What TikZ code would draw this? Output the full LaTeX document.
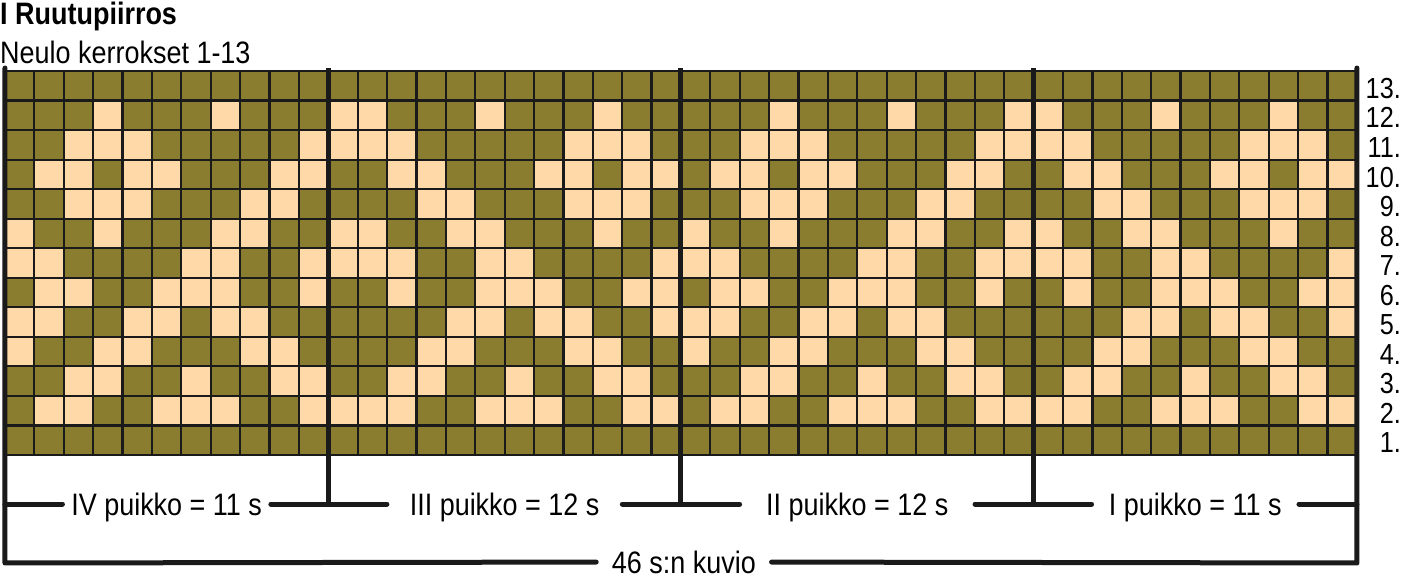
\documentclass[tikz,border=0pt]{standalone}
\usepackage{fontspec}
\setmainfont{Liberation Sans}[FakeStretch=0.87]
\usepackage{xcolor}
\usepackage{tikz}
\definecolor{olivedark}{RGB}{139,125,47}
\definecolor{peach}{RGB}{255,217,168}
\definecolor{gridink}{RGB}{26,26,26}
\tikzset{
  cellbg/.style    = {fill=olivedark},
  lightcell/.style = {fill=peach},
  gridline/.style  = {line width=2.2pt, draw=gridink},
  divider/.style   = {line width=5pt, draw=gridink},
  bar/.style       = {line width=5pt, draw=gridink, line cap=round, line join=round},
  puikko/.style    = {font=\fontsize{31}{37}\selectfont, inner sep=0pt,
                      text depth=0pt},
  rowlab/.style    = {font=\fontsize{29}{35}\selectfont, inner sep=0pt,
                      anchor=base east},
  headlab/.style   = {font=\fontsize{31}{37}\selectfont, inner sep=0pt,
                      anchor=base west},
}
\newcommand{\chartrow}[2]{%
  \foreach \c in {#2} {
    \fill[lightcell] (\c-1,#1-1) rectangle (\c,#1);
  }
}

\begin{document}
\begin{tikzpicture}[x=29.39pt, y=29.54pt]
  \useasboundingbox (-0.170,-4.096) rectangle (47.568,15.403);

  % headings
  \node[headlab, font=\fontsize{31}{37}\selectfont\bfseries] (title) at (-0.17,14.59) {I Ruutupiirros};
  \node[headlab] (subtitle) at (-0.17,13.27) {Neulo kerrokset 1-13};

  % chart
  \fill[cellbg] (0,0) rectangle (46,13);
  \chartrow{12}{4,8,12,13,17,21,27,31,35,36,40,44}
  \chartrow{11}{3,4,5,11,12,13,14,20,21,22,26,27,28,34,35,36,37,43,44,45}
  \chartrow{10}{2,3,5,6,10,11,14,15,19,20,22,23,25,26,28,29,33,34,37,38,42,43,45,46}
  \chartrow{9}{3,4,5,9,10,15,16,20,21,22,26,27,28,32,33,38,39,43,44,45}
  \chartrow{8}{1,4,8,9,12,13,16,17,21,24,27,31,32,35,36,39,40,44}
  \chartrow{7}{1,2,7,8,11,12,13,14,17,18,23,24,25,30,31,34,35,36,37,40,41,46}
  \chartrow{6}{2,3,6,7,8,11,14,17,18,19,22,23,25,26,29,30,31,34,37,40,41,42,45,46}
  \chartrow{5}{1,2,5,6,8,9,16,17,19,20,23,24,25,28,29,31,32,39,40,42,43,46}
  \chartrow{4}{1,4,5,9,10,15,16,20,21,24,27,28,32,33,38,39,43,44}
  \chartrow{3}{3,4,7,10,11,14,15,18,21,22,26,27,30,33,34,37,38,41,44,45}
  \chartrow{2}{2,3,6,7,8,11,12,13,14,17,18,19,22,23,25,26,29,30,31,34,35,36,37,40,41,42,45,46}
  \foreach \c in {0,...,46}
    \draw[gridline] (\c,0) -- (\c,13);
  \foreach \r in {0,...,13}
    \draw[gridline] (0,\r) -- (46,\r);

  \foreach \r in {1,...,13}
    \node[rowlab] (row\r) at (47.5,\r-0.93) {\r.};

  % needle brackets
  \coordinate (top0) at (0,13.1);
  \coordinate (top4) at (46,13.1);
  \coordinate (b0) at (0,-1.659);
  \coordinate (b4) at (46,-1.659);
  \coordinate (k0) at (0,-3.656);
  \coordinate (k1) at (46,-3.656);

  \node[puikko, minimum width=208pt] (IVlab)  at (5.5,-1.659)  {IV puikko = 11 s};
  \node[puikko, minimum width=235pt] (IIIlab) at (17,-1.659)   {III puikko = 12 s};
  \node[puikko, minimum width=235pt] (IIlab)  at (29,-1.659)   {II puikko = 12 s};
  \node[puikko, minimum width=207pt] (Ilab)   at (40.5,-1.659) {I puikko = 11 s};
  \node[puikko, minimum width=175pt] (kuviolab) at (23.1,-3.62) {46 s:n kuvio};

  \foreach \d in {11,23,35}
    \draw[divider] (\d,13.1) -- (\d,-1.659);

  \draw[bar] (top0) -- (k0) -- (kuviolab) -- (k1) -- (top4);
  \draw[bar] (b0) -- (IVlab) -- (IIIlab) -- (IIlab) -- (Ilab) -- (b4);
\end{tikzpicture}
\end{document}
